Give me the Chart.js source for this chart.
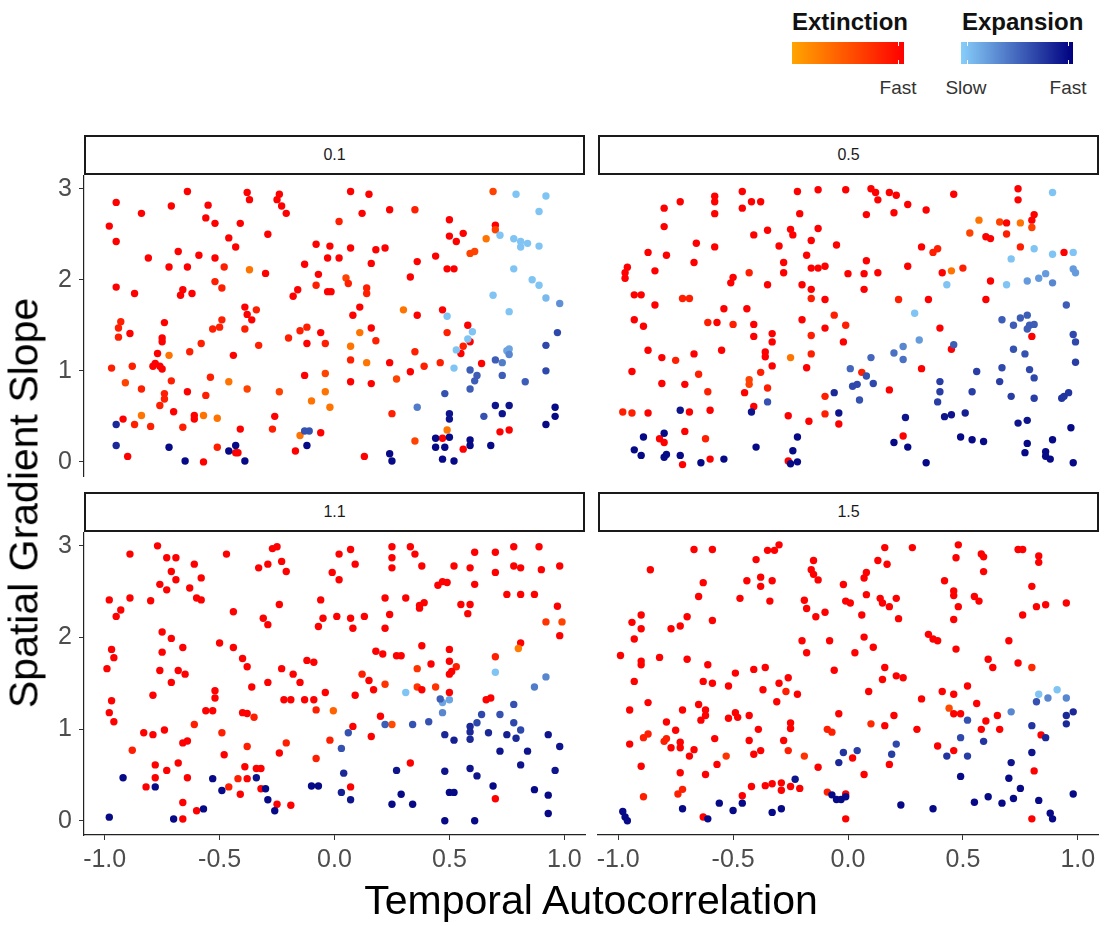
<!DOCTYPE html>
<html>
<head>
<meta charset="utf-8">
<script src="https://cdn.jsdelivr.net/npm/chart.js@4.4.0/dist/chart.umd.min.js"></script>
<style>
  body { margin: 0; width: 1113px; height: 926px; background: #fff; position: relative; overflow: hidden;
         font-family: "Liberation Sans", Arial, sans-serif; }
  canvas { position: absolute; }
  .strip { position: absolute; box-sizing: border-box; border: 2px solid #1a1a1a; background: #fff;
           height: 40px; width: 501px; font-size: 16px; color: #1a1a1a;
           display: flex; align-items: center; justify-content: center; }
  .lgTitle { position: absolute; font-weight: bold; font-size: 24px; line-height: 24px; color: #111; white-space: nowrap; }
  .lgBar { position: absolute; top: 42px; width: 112px; height: 22px; }
  .lgTick { position: absolute; width: 1px; height: 4px; background: #fff; }
  .lgLab { position: absolute; font-size: 19px; line-height: 19px; color: #333; transform: translateX(-50%); white-space: nowrap; }
  .axTitle { position: absolute; font-size: 41px; line-height: 41px; color: #000; white-space: nowrap; }
</style>
</head>
<body>

<div class="lgTitle" style="left:792px; top:10px;">Extinction</div>
<div class="lgBar" id="barExt" style="left:792px;"></div>
<div class="lgTick" style="left:898px; top:42px;"></div>
<div class="lgTick" style="left:898px; top:60px;"></div>
<div class="lgLab" style="left:898px; top:78px;">Fast</div>

<div class="lgTitle" style="left:962px; top:10px;">Expansion</div>
<div class="lgBar" id="barExp" style="left:961px;"></div>
<div class="lgTick" style="left:967px; top:42px;"></div>
<div class="lgTick" style="left:967px; top:60px;"></div>
<div class="lgTick" style="left:1068px; top:42px;"></div>
<div class="lgTick" style="left:1068px; top:60px;"></div>
<div class="lgLab" style="left:966px; top:78px;">Slow</div>
<div class="lgLab" style="left:1068px; top:78px;">Fast</div>

<canvas id="p01" width="595" height="344" style="left:0px; top:154px;"></canvas>
<canvas id="p05" width="522" height="344" style="left:587px; top:154px;"></canvas>
<canvas id="p11" width="595" height="368" style="left:0px; top:511px;"></canvas>
<canvas id="p15" width="522" height="368" style="left:587px; top:511px;"></canvas>

<div class="strip" style="left:84px; top:135px;">0.1</div>
<div class="strip" style="left:598px; top:135px;">0.5</div>
<div class="strip" style="left:84px; top:492px;">1.1</div>
<div class="strip" style="left:598px; top:492px;">1.5</div>

<div class="axTitle" style="left:591px; top:880px; transform: translateX(-50%);">Temporal Autocorrelation</div>
<div class="axTitle" style="left:24px; top:503px; transform: translate(-50%, -50%) rotate(-90deg);">Spatial Gradient Slope</div>

<script>
// facet labels and axis ticks
const facets = ["0.1", "0.5", "1.1", "1.5"];
const xTicks = [-1, -0.5, 0, 0.5, 1];
const yTicks = [0, 1, 2, 3];

// points: [temporal autocorrelation, spatial gradient slope, speed 0..1]
const ext01 = [
  [-0.95,2.85,1],[-0.64,2.97,1],[-0.84,2.73,1],[-0.71,2.81,1],[-0.55,2.82,1],[-0.56,2.68,1],[-0.52,2.62,1],
  [-0.38,2.96,1],[-0.37,2.88,1],[-0.24,2.94,1],[-0.25,2.88,1],[-0.23,2.81,1],[-0.21,2.73,1],[-0.98,2.59,1],
  [-0.95,2.42,1],[-0.41,2.62,1],[-0.29,2.5,1],[-0.46,2.46,1],[-0.43,2.36,1],[-0.81,2.24,1],[-0.68,2.31,1],
  [-0.59,2.27,1],[-0.52,2.24,1],[-0.72,2.14,1],[-0.64,2.14,1],[-0.48,2.14,0.82],[-0.37,2.11,0.3],[-0.3,2.07,1],
  [-0.08,2.39,1],[-0.02,2.37,1],[-0.03,2.24,1],[-0.13,2.17,1],[-0.07,2.06,1],[-0.08,1.94,0.82],[-0.03,1.87,1],
  [-0.015,1.87,1],[-0.16,1.89,1],[-0.18,1.82,1],[-0.95,1.92,1],[-0.87,1.85,1],[-0.66,1.89,1],[-0.67,1.83,1],
  [-0.62,1.85,1],[-0.52,1.98,0.82],[-0.49,1.91,0.82],[-0.39,1.7,1],[-0.38,1.62,1],[-0.36,1.56,1],[-0.34,1.67,0.82],
  [-0.93,1.54,0.82],[-0.94,1.47,0.82],[-0.94,1.37,0.82],[-0.89,1.41,1],[-0.74,1.53,1],[-0.75,1.36,1],[-0.75,1.32,1],
  [-0.49,1.56,0.82],[-0.5,1.48,0.82],[-0.53,1.46,0.82],[-0.39,1.46,0.82],[-0.58,1.3,0.82],[-0.63,1.21,0.82],
  [-0.72,1.17,0.3],[-0.77,1.19,1],[-0.44,1.17,1],[-0.33,1.28,0.82],[-0.2,1.36,0.82],[-0.15,1.44,0.82],
  [-0.12,1.48,0.82],[-0.06,1.42,1],[-0.12,1.3,1],[-0.04,1.3,0.82],[-0.97,1.03,0.82],[-0.88,1.05,0.82],
  [-0.79,1.05,1],[-0.78,1.08,1],[-0.76,1.05,1],[-0.75,1.02,1],[-0.91,0.87,0.6],[-0.84,0.8,0.82],[-0.71,0.89,0.82],
  [-0.74,0.75,0.82],[-0.74,0.69,0.82],[-0.76,0.62,0.82],[-0.64,0.77,1],[-0.56,0.73,0.82],[-0.54,0.93,0.82],
  [-0.46,0.88,0.3],[-0.38,0.8,0.6],[-0.24,0.77,0.6],[-0.13,0.95,1],[-0.04,0.97,0.6],[-0.04,0.77,0.3],
  [-0.1,0.67,0.3],[-0.02,0.6,0.3],[-0.84,0.51,0.3],[-0.92,0.47,1],[-0.87,0.41,0.82],[-0.8,0.39,0.82],
  [-0.7,0.55,1],[-0.61,0.51,1],[-0.61,0.47,1],[-0.57,0.51,0.3],[-0.51,0.48,0.3],[-0.66,0.38,0.82],[-0.41,0.36,1],
  [-0.26,0.5,1],[-0.27,0.36,0.82],[-0.06,0.32,1],[-0.15,0.29,0.3],[-0.9,0.06,1],[-0.57,0.0,1],[-0.51,0.16,0.82],
  [-0.43,0.1,1],[-0.42,0.1,1],[-0.17,0.12,1],
  [0.07,2.97,1],[0.15,2.94,1],[0.24,2.77,1],[0.35,2.77,0.82],[0.12,2.73,1],[0.02,2.64,0.82],[0.5,2.66,1],
  [0.5,2.48,1],[0.53,2.42,1],[0.56,2.51,1],[0.69,2.97,0.6],[0.7,2.6,1],[0.7,2.55,0.6],[0.66,2.45,0.3],
  [0.59,2.29,0.6],[0.61,2.31,0.6],[0.07,2.35,1],[0.18,2.33,1],[0.22,2.35,1],[0.02,2.24,1],[0.16,2.18,1],
  [0.36,2.2,1],[0.44,2.26,1],[0.49,2.12,1],[0.52,2.12,1],[0.33,2.03,1],[0.05,2.02,0.6],[0.06,1.96,0.82],
  [0.14,1.91,0.82],[0.14,1.85,0.82],[0.11,1.7,1],[0.08,1.61,1],[0.3,1.67,0.3],[0.36,1.61,1],[0.47,1.67,1],
  [0.16,1.47,1],[0.11,1.42,0.3],[0.18,1.33,0.82],[0.07,1.27,0.3],[0.07,1.12,0.82],[0.14,1.09,0.3],[0.24,1.09,1],
  [0.35,1.21,0.82],[0.39,1.05,0.82],[0.33,0.99,1],[0.27,0.91,0.6],[0.07,0.88,1],[0.16,0.86,1],[0.46,1.09,0.82],
  [0.49,1.42,0.82],[0.58,1.5,1],[0.59,1.32,1],[0.56,1.27,0.82],[0.55,1.19,1],[0.64,1.08,1],[0.25,0.53,0.82],
  [0.35,0.23,0.6],[0.49,0.35,0.3],[0.47,0.26,1],[0.56,0.14,1],[0.72,0.33,1],[0.76,0.35,1],[0.13,0.06,1]
];
const exp01 = [
  [-0.95,0.41,0.8],[-0.95,0.18,0.8],[-0.72,0.16,0.95],[-0.65,0.01,0.95],[-0.43,0.18,0.95],[-0.46,0.12,0.95],
  [-0.39,0.01,0.95],[-0.13,0.34,0.6],[-0.11,0.34,0.6],[-0.12,0.18,0.95],
  [0.79,2.94,0.05],[0.92,2.92,0.05],[0.89,2.75,0.05],[0.72,2.49,0.05],[0.78,2.45,0.05],[0.81,2.42,0.05],
  [0.81,2.36,0.05],[0.84,2.4,0.05],[0.89,2.37,0.05],[0.78,2.12,0.05],[0.86,2.0,0.05],[0.89,1.94,0.05],
  [0.92,1.8,0.1],[0.98,1.74,0.3],[0.69,1.83,0.05],[0.76,1.65,0.05],[0.49,1.6,0.05],[0.6,1.43,0.05],
  [0.58,1.35,0.05],[0.53,1.23,0.05],[0.52,1.03,0.05],[0.75,1.22,0.2],[0.76,1.24,0.2],
  [0.76,1.18,0.35],[0.73,1.09,0.4],[0.7,1.12,0.55],[0.59,1.01,0.55],[0.62,0.95,0.55],[0.61,0.89,0.55],
  [0.59,0.8,0.55],[0.73,0.95,0.55],[0.83,0.88,0.55],[0.92,1.28,0.65],[0.97,1.42,0.65],[0.92,1.0,0.65],
  [0.48,0.75,0.6],[0.36,0.6,0.4],[0.65,0.5,0.6],
  [0.7,0.62,0.9],[0.76,0.62,0.9],[0.73,0.53,0.9],[0.5,0.53,0.9],[0.5,0.47,0.9],[0.96,0.6,0.95],[0.96,0.5,0.95],
  [0.92,0.41,0.95],[0.44,0.26,0.95],[0.44,0.16,0.95],[0.48,0.16,0.95],[0.5,0.27,0.95],[0.59,0.24,0.95],
  [0.59,0.18,0.95],[0.68,0.18,0.95],[0.24,0.09,0.95],[0.25,0.01,0.95],[0.47,0.03,0.95],[0.52,0.01,0.95]
];

const ext05 = [
  [-0.8,2.77,1],[-0.73,2.84,1],[-0.58,2.9,1],[-0.58,2.84,1],[-0.58,2.71,1],[-0.46,2.95,1],[-0.46,2.77,1],
  [-0.42,2.84,1],[-0.38,2.84,1],[-0.22,2.95,1],[-0.13,2.97,1],[-0.01,2.97,1],[-0.21,2.71,1],[-0.8,2.57,1],
  [-0.66,2.39,1],[-0.58,2.35,1],[-0.87,2.29,1],[-0.79,2.26,1],[-0.67,2.18,1],[-0.84,2.09,1],[-0.96,2.13,1],
  [-0.97,2.07,1],[-0.97,2.01,1],[-0.41,2.48,1],[-0.35,2.53,1],[-0.3,2.36,1],[-0.25,2.54,1],[-0.24,2.48,1],
  [-0.16,2.42,1],[-0.13,2.55,1],[-0.05,2.37,1],[-0.18,2.26,1],[-0.28,2.18,1],[-0.28,2.07,1],[-0.16,2.12,1],
  [-0.13,2.12,1],[-0.1,2.14,1],[-0.5,2.02,1],[-0.51,1.96,1],[-0.43,2.07,0.82],[-0.35,1.94,1],[-0.2,1.94,1],
  [-0.16,1.89,1],[-0.16,1.79,0.82],[-0.1,1.78,1],[-0.93,1.83,1],[-0.9,1.83,1],[-0.72,1.79,0.82],[-0.69,1.79,0.82],
  [-0.84,1.72,1],[-0.54,1.68,1],[-0.44,1.68,1],[-0.93,1.56,1],[-0.89,1.49,1],[-0.61,1.53,0.82],[-0.57,1.53,1],
  [-0.5,1.51,0.82],[-0.41,1.51,1],[-0.41,1.38,1],[-0.33,1.41,1],[-0.33,1.32,1],[-0.2,1.56,1],[-0.06,1.61,0.82],
  [-0.01,1.5,0.82],[-0.1,1.47,1],[-0.16,1.39,0.82],[-0.02,1.32,1],[-0.87,1.23,1],[-0.81,1.15,1],[-0.75,1.12,0.82],
  [-0.67,1.19,1],[-0.55,1.23,1],[-0.36,1.21,1],[-0.36,1.16,1],[-0.25,1.15,0.3],[-0.16,1.19,0.82],[-0.33,1.06,1],
  [-0.18,1.04,1],[-0.94,1.0,1],[-0.65,0.97,0.82],[-0.38,0.99,0.82],[-0.81,0.87,1],[-0.71,0.86,1],[-0.61,0.78,0.82],
  [-0.43,0.91,0.6],[-0.43,0.86,0.6],[-0.45,0.77,1],[-0.35,0.82,0.82],[-0.1,0.73,0.82],[-0.98,0.56,0.82],
  [-0.94,0.55,0.82],[-0.87,0.55,1],[-0.69,0.56,1],[-0.6,0.58,1],[-0.41,0.62,1],[-0.26,0.52,1],[-0.17,0.46,1],
  [-0.1,0.54,0.82],[-0.04,0.43,1],[-0.71,0.35,1],[-0.62,0.27,0.82],[-0.82,0.27,1],[-0.8,0.23,1],[-0.72,-0.01,1],
  [-0.6,0.05,1],[-0.26,0.03,1],
  [0.1,2.98,1],[0.12,2.94,1],[0.13,2.86,1],[0.18,2.94,1],[0.21,2.91,1],[0.08,2.7,1],[0.2,2.72,1],[0.26,2.81,1],
  [0.34,2.75,1],[0.46,2.92,1],[0.74,2.98,1],[0.74,2.86,1],[0.81,2.7,1],[0.8,2.64,1],[0.57,2.64,0.3],
  [0.66,2.62,0.6],[0.69,2.61,1],[0.75,2.61,0.3],[0.8,2.56,0.6],[0.53,2.5,0.6],[0.6,2.46,1],[0.62,2.44,1],
  [0.69,2.49,0.82],[0.75,2.35,0.82],[0.32,2.35,1],[0.39,2.33,0.82],[0.37,2.29,0.82],[0.94,2.29,1],[0.08,2.2,1],
  [0.0,2.06,1],[0.07,2.06,1],[0.13,2.07,1],[0.07,1.89,1],[0.26,2.14,1],[0.41,2.07,1],[0.45,2.09,0.3],
  [0.5,2.12,0.82],[0.62,1.98,1],[0.6,1.78,1],[0.35,1.78,1],[0.22,1.78,0.82],[0.4,1.47,1],[0.45,1.24,1],
  [0.8,1.38,1],[0.32,1.03,1],[0.06,0.99,0.82],[0.18,0.8,1],[0.24,0.3,1]
];
const exp05 = [
  [-0.06,0.77,0.8],[-0.04,0.55,0.9],[-0.35,0.67,0.6],[-0.73,0.58,0.9],[-0.42,0.56,0.9],[-0.89,0.29,0.95],
  [-0.8,0.33,0.95],[-0.93,0.15,0.95],[-0.9,0.09,0.95],[-0.8,0.07,0.95],[-0.79,0.1,0.95],[-0.73,0.09,0.95],
  [-0.64,0.01,0.95],[-0.54,0.05,0.95],[-0.4,0.18,0.95],[-0.22,0.29,0.95],[-0.24,0.14,0.95],[-0.25,0.0,0.95],
  [-0.22,0.02,0.95],
  [0.89,2.94,0.05],[0.81,2.33,0.05],[0.89,2.27,0.05],[0.98,2.29,0.05],[0.71,2.22,0.05],[0.43,1.94,0.05],
  [0.69,1.94,0.05],[0.29,1.63,0.05],
  [0.78,1.98,0.25],[0.83,2.01,0.25],[0.86,2.06,0.25],[0.98,2.11,0.25],[0.99,2.07,0.25],[0.89,1.96,0.35],
  [0.31,1.34,0.25],[0.24,1.27,0.35],
  [0.95,1.72,0.55],[0.67,1.56,0.55],[0.72,1.5,0.55],[0.75,1.58,0.55],[0.78,1.61,0.55],[0.79,1.5,0.55],
  [0.81,1.51,0.55],[0.78,1.46,0.55],[0.46,1.29,0.55],[0.2,1.2,0.45],[0.24,1.13,0.45],[0.1,1.15,0.5],
  [0.01,1.03,0.5],[0.08,0.95,0.6],[0.02,0.84,0.65],[0.04,0.86,0.65],[0.11,0.87,0.65],[0.05,0.69,0.6],
  [0.98,1.4,0.65],[0.99,1.32,0.65],[0.72,1.24,0.6],[0.77,1.19,0.6],[0.99,1.1,0.7],[0.67,1.04,0.65],
  [0.79,1.02,0.65],[0.81,0.93,0.65],[0.56,1.0,0.7],[0.66,0.89,0.7],[0.4,0.89,0.7],[0.4,0.78,0.7],
  [0.39,0.67,0.7],[0.54,0.78,0.7],[0.71,0.73,0.7],[0.81,0.71,0.7],[0.93,0.71,0.75],[0.94,0.73,0.75],
  [0.96,0.77,0.75],
  [0.25,0.5,0.9],[0.42,0.51,0.9],[0.45,0.53,0.9],[0.51,0.55,0.85],[0.74,0.44,0.9],[0.78,0.47,0.9],
  [0.97,0.39,0.95],[0.2,0.23,0.95],[0.26,0.18,0.95],[0.49,0.29,0.95],[0.54,0.26,0.95],[0.59,0.24,0.95],
  [0.78,0.22,0.95],[0.77,0.12,0.95],[0.89,0.26,0.95],[0.86,0.13,0.95],[0.86,0.08,0.95],[0.88,0.05,0.95],
  [0.34,0.01,0.95],[0.98,0.01,0.95]
];

const ext11 = [
  [-0.77,3.0,1],[-0.89,2.91,1],[-0.73,2.87,1],[-0.69,2.87,1],[-0.61,2.8,1],[-0.71,2.72,1],[-0.69,2.63,1],
  [-0.58,2.65,1],[-0.76,2.58,1],[-0.73,2.52,1],[-0.63,2.54,1],[-0.6,2.43,1],[-0.58,2.41,1],[-0.47,2.91,1],
  [-0.27,2.97,1],[-0.25,2.99,1],[-0.33,2.76,1],[-0.29,2.8,1],[-0.23,2.83,1],[-0.21,2.72,1],[-0.01,2.71,1],
  [-0.98,2.41,1],[-0.89,2.43,1],[-0.93,2.3,1],[-0.95,2.23,1],[-0.8,2.4,1],[-0.44,2.28,1],[-0.31,2.21,1],
  [-0.29,2.14,1],[-0.24,2.36,1],[-0.06,2.41,1],[-0.05,2.21,1],[-0.07,2.12,1],[-0.75,2.06,1],[-0.71,1.99,1],
  [-0.66,1.89,1],[-0.75,1.84,1],[-0.97,1.87,1],[-0.96,1.78,1],[-0.99,1.66,1],[-0.76,1.64,1],[-0.68,1.64,1],
  [-0.65,1.6,1],[-0.71,1.51,1],[-0.5,1.94,1],[-0.44,1.89,1],[-0.4,1.77,1],[-0.38,1.68,1],[-0.36,1.46,1],
  [-0.29,1.51,1],[-0.23,1.66,1],[-0.18,1.6,1],[-0.15,1.51,1],[-0.12,1.75,1],[-0.09,1.73,1],[-0.04,1.4,1],
  [-0.13,1.32,1],[-0.09,1.32,1],[-0.22,1.32,1],[-0.19,1.32,1],[-0.52,1.42,1],[-0.52,1.34,1],[-0.56,1.2,1],
  [-0.53,1.2,1],[-0.4,1.18,1],[-0.38,1.17,1],[-0.35,1.13,0.82],[-0.08,1.21,0.82],[-0.005,1.2,0.4],
  [-0.79,1.37,1],[-0.97,1.31,1],[-0.98,1.18,1],[-0.96,1.08,1],[-0.83,0.96,1],[-0.79,0.94,1],[-0.74,0.99,1],
  [-0.61,1.05,0.82],[-0.66,0.85,1],[-0.64,0.87,1],[-0.49,0.96,0.82],[-0.88,0.77,0.82],[-0.48,0.72,1],
  [-0.38,0.81,0.82],[-0.24,0.74,1],[-0.21,0.85,0.82],[-0.02,0.88,0.82],[-0.08,0.68,0.82],[-0.78,0.61,1],
  [-0.78,0.47,1],[-0.73,0.55,1],[-0.68,0.63,1],[-0.64,0.47,1],[-0.82,0.37,1],[-0.39,0.59,1],[-0.34,0.57,1],
  [-0.32,0.57,1],[-0.42,0.46,0.82],[-0.38,0.46,1],[-0.46,0.37,0.82],[-0.32,0.35,1],[-0.41,0.29,1],
  [-0.25,0.18,1],[-0.19,0.17,1],[-0.66,0.2,1],[-0.6,0.11,1],[-0.66,0.02,1],
  [0.02,2.91,1],[0.07,2.96,1],[0.09,2.8,1],[0.02,2.63,1],[0.25,2.99,1],[0.25,2.87,1],[0.25,2.76,1],
  [0.33,2.99,1],[0.35,2.91,1],[0.38,2.78,1],[0.61,2.93,1],[0.52,2.78,1],[0.59,2.76,1],[0.7,2.93,1],
  [0.78,2.99,1],[0.78,2.78,1],[0.81,2.76,1],[0.89,2.99,1],[0.9,2.74,1],[0.98,2.78,1],[0.7,2.71,1],
  [0.45,2.57,1],[0.47,2.61,1],[0.49,2.6,1],[0.61,2.58,1],[0.22,2.43,1],[0.31,2.43,1],[0.37,2.35,1],
  [0.37,2.32,1],[0.39,2.38,1],[0.55,2.36,1],[0.59,2.36,1],[0.58,2.26,1],[0.75,2.47,1],[0.81,2.47,1],
  [0.87,2.47,1],[0.97,2.34,1],[0.98,2.02,1],[0.01,2.23,1],[0.07,2.21,1],[0.08,2.1,1],[0.13,2.23,1],
  [0.24,2.25,1],[0.22,2.1,1],[0.92,2.17,0.7],[0.99,2.17,0.6],[0.81,1.94,1],[0.8,1.88,0.25],[0.7,1.79,0.82],
  [0.18,1.85,1],[0.21,1.82,1],[0.27,1.8,1],[0.29,1.8,1],[0.38,1.91,1],[0.5,1.87,1],[0.42,1.71,1],[0.5,1.74,1],
  [0.53,1.68,0.82],[0.51,1.63,1],[0.5,1.6,1],[0.36,1.66,0.7],[0.12,1.6,0.82],[0.15,1.53,1],[0.17,1.43,1],
  [0.22,1.49,0.7],[0.36,1.46,0.7],[0.38,1.43,1],[0.44,1.46,0.7],[0.5,1.4,1],[0.09,1.37,1],[0.66,1.32,1],
  [0.68,1.34,1],[0.2,1.14,1],[0.25,1.05,0.55],[0.08,1.03,1],[0.16,0.92,1],[0.33,0.63,1],[0.07,0.37,1],
  [0.7,0.24,1]
];
const exp11 = [
  [-0.92,0.47,0.95],[-0.78,0.37,0.95],[-0.98,0.04,0.95],[-0.7,0.02,0.95],[-0.57,0.13,0.95],[-0.53,0.46,0.95],
  [-0.49,0.33,0.95],[-0.34,0.47,0.9],[-0.3,0.35,0.95],[-0.29,0.23,0.95],[-0.26,0.11,0.95],[-0.1,0.38,0.95],
  [-0.07,0.38,0.95],
  [0.31,1.4,0.05],[0.7,1.62,0.05],[0.5,1.32,0.2],[0.47,1.29,0.2],
  [0.92,1.57,0.35],[0.87,1.46,0.4],[0.46,1.33,0.55],[0.47,1.18,0.35],[0.78,1.27,0.6],[0.72,1.16,0.6],
  [0.64,1.16,0.65],[0.62,1.07,0.65],[0.78,1.07,0.65],[0.81,0.99,0.65],[0.41,1.08,0.6],[0.34,1.05,0.6],
  [0.22,1.05,0.55],[0.06,0.96,0.6],[0.03,0.79,0.6],
  [0.59,1.03,0.8],[0.59,0.97,0.8],[0.59,0.89,0.8],[0.48,0.94,0.8],[0.52,0.88,0.85],[0.67,0.96,0.8],
  [0.75,0.94,0.85],[0.79,0.9,0.8],[0.93,0.94,0.9],[0.98,0.81,0.9],[0.72,0.76,0.9],[0.84,0.76,0.9],
  [0.81,0.61,0.9],[0.96,0.55,0.9],[0.04,0.52,0.8],[0.27,0.55,0.9],[0.48,0.54,0.9],[0.59,0.57,0.9],
  [0.62,0.49,0.9],[0.69,0.38,0.95],[0.03,0.31,0.85],[0.07,0.23,0.9],[0.29,0.29,0.95],[0.25,0.18,0.95],
  [0.34,0.18,0.95],[0.5,0.31,0.95],[0.52,0.31,0.95],[0.87,0.34,0.95],[0.93,0.28,0.95],[0.93,0.08,0.95],
  [0.48,0.0,0.95],[0.61,0.0,0.95]
];

const ext15 = [
  [-0.67,2.94,1],[-0.59,2.94,1],[-0.86,2.72,1],[-0.4,2.83,1],[-0.35,2.93,1],[-0.32,2.93,1],[-0.3,2.99,1],
  [-0.63,2.58,1],[-0.65,2.43,1],[-0.44,2.6,1],[-0.38,2.64,1],[-0.38,2.54,1],[-0.33,2.6,1],[-0.47,2.41,1],
  [-0.34,2.38,1],[-0.15,2.82,1],[-0.16,2.72,1],[-0.15,2.67,1],[-0.13,2.61,1],[-0.02,2.56,1],[-0.01,2.38,1],
  [0.01,2.36,1],[-0.19,2.39,1],[-0.18,2.3,1],[-0.14,2.21,1],[-0.1,2.26,1],[-0.94,2.15,1],[-0.9,2.23,1],
  [-0.9,2.08,1],[-0.93,1.97,1],[-0.77,2.08,1],[-0.73,2.11,1],[-0.7,2.21,1],[-0.59,2.17,1],[-0.99,1.79,1],
  [-0.9,1.73,1],[-0.9,1.69,1],[-0.82,1.77,1],[-0.7,1.75,1],[-0.93,1.51,1],[-0.2,1.95,1],[-0.18,1.82,1],
  [-0.08,1.95,1],[-0.06,1.63,1],[-0.61,1.69,1],[-0.49,1.6,1],[-0.63,1.51,1],[-0.59,1.49,1],[-0.52,1.46,1],
  [-0.41,1.64,1],[-0.36,1.66,1],[-0.37,1.42,1],[-0.3,1.49,1],[-0.26,1.55,1],[-0.27,1.4,0.82],[-0.22,1.37,1],
  [-0.31,1.29,1],[-0.87,1.28,1],[-0.95,1.2,1],[-0.72,1.2,1],[-0.65,1.26,1],[-0.62,1.2,1],[-0.62,1.14,1],
  [-0.64,1.09,1],[-0.52,1.11,1],[-0.49,1.17,1],[-0.48,1.12,1],[-0.43,1.14,1],[-0.04,1.16,1],[-0.79,1.07,1],
  [-0.75,0.98,1],[-0.25,1.06,1],[-0.25,1.0,1],[-0.39,0.99,1],[-0.89,0.9,0.82],[-0.87,0.94,0.82],[-0.95,0.83,1],
  [-0.8,0.86,0.82],[-0.79,0.89,0.82],[-0.77,0.79,1],[-0.73,0.85,1],[-0.73,0.79,1],[-0.67,0.77,1],[-0.69,0.7,1],
  [-0.58,0.89,1],[-0.43,0.87,1],[-0.28,0.87,1],[-0.41,0.72,1],[-0.38,0.76,1],[-0.26,0.76,0.82],[-0.53,0.7,0.7],
  [-0.19,0.7,0.7],[-0.09,0.99,0.82],[-0.07,0.96,0.82],[-0.9,0.59,1],[-0.73,0.52,1],[-0.57,0.61,1],[-0.62,0.5,1],
  [-0.13,0.58,1],[-0.89,0.26,0.82],[-0.74,0.29,0.82],[-0.72,0.34,0.82],[-0.42,0.37,1],[-0.36,0.38,1],
  [-0.33,0.4,1],[-0.29,0.41,1],[-0.29,0.33,1],[-0.25,0.37,1],[-0.21,0.35,1],[-0.46,0.27,1],[-0.09,0.31,0.82],
  [-0.01,0.29,1],[-0.63,0.04,1],[-0.01,0.02,1],
  [0.16,2.96,1],[0.28,2.96,1],[0.48,2.99,1],[0.47,2.85,1],[0.13,2.82,1],[0.17,2.78,1],[0.58,2.89,1],
  [0.59,2.86,1],[0.59,2.7,1],[0.74,2.94,1],[0.76,2.94,1],[0.83,2.87,1],[0.83,2.8,1],[0.08,2.69,1],[0.07,2.63,1],
  [0.42,2.6,1],[0.8,2.54,1],[0.08,2.45,1],[0.14,2.41,1],[0.15,2.36,1],[0.18,2.32,1],[0.21,2.41,1],[0.46,2.49,1],
  [0.46,2.44,1],[0.48,2.32,1],[0.55,2.43,1],[0.57,2.38,1],[0.82,2.32,1],[0.86,2.34,1],[0.95,2.36,1],
  [0.76,2.23,1],[0.06,2.23,1],[0.22,2.19,1],[0.46,2.18,1],[0.35,2.02,1],[0.37,1.97,1],[0.39,1.95,1],
  [0.07,1.99,1],[0.11,1.88,1],[0.03,1.82,1],[0.47,1.86,1],[0.7,1.95,1],[0.61,1.75,1],[0.63,1.66,1],
  [0.74,1.71,1],[0.8,1.66,0.75],[0.16,1.66,1],[0.15,1.53,1],[0.21,1.57,1],[0.24,1.55,1],[0.09,1.4,1],
  [0.32,1.32,1],[0.41,1.4,1],[0.46,1.37,1],[0.52,1.46,1],[0.56,1.27,1],[0.44,1.22,0.55],[0.46,1.16,1],
  [0.49,1.16,1],[0.2,1.14,1],[0.16,1.03,1],[0.1,1.05,0.75],[0.3,0.99,1],[0.6,1.08,1],[0.65,1.14,1],
  [0.58,0.99,1],[0.66,0.99,1],[0.84,0.93,1],[0.39,0.81,1],[0.46,0.76,1],[0.02,0.68,1],[0.18,0.61,1],
  [0.07,0.5,1],[0.81,0.54,1],[0.8,0.02,1]
];
const exp15 = [
  [-0.02,0.74,0.75],[-0.04,0.63,0.8],[-0.23,0.45,0.9],[-0.07,0.28,0.95],[-0.05,0.23,0.95],[-0.03,0.23,0.95],
  [-0.01,0.26,0.95],[-0.98,0.1,0.95],[-0.97,0.04,0.95],[-0.96,0.0,0.95],[-0.72,0.13,0.95],[-0.56,0.19,0.95],
  [-0.5,0.11,0.95],[-0.46,0.19,0.95],[-0.33,0.09,0.95],[-0.29,0.13,0.95],[-0.61,0.02,0.95],
  [0.83,1.37,0.05],[0.91,1.42,0.05],[0.87,1.33,0.35],[0.95,1.33,0.35],[0.71,1.18,0.35],[0.82,1.29,0.6],
  [0.52,1.09,0.6],[0.95,1.14,0.8],[0.98,1.18,0.8],[0.95,1.05,0.8],[0.8,1.03,0.75],[0.86,0.9,0.8],
  [0.49,0.9,0.65],[0.59,0.86,0.75],[0.21,0.83,0.65],[0.19,0.72,0.7],[0.04,0.76,0.7],[0.43,0.7,0.75],
  [0.52,0.7,0.7],[0.8,0.74,0.9],[0.71,0.63,0.9],[0.49,0.48,0.95],[0.7,0.46,0.95],[0.75,0.35,0.95],
  [0.98,0.29,0.95],[0.61,0.26,0.95],[0.55,0.2,0.95],[0.67,0.19,0.95],[0.72,0.24,0.95],[0.83,0.22,0.95],
  [0.88,0.08,0.95],[0.89,0.02,0.95],[0.23,0.17,0.95],[0.37,0.13,0.95]
];

// colour ramps: slow -> fast
const extSlow = [255, 165, 0], extFast = [255, 0, 0];
const expSlow = [135, 206, 250], expFast = [0, 0, 128];

function mix(a, b, t) {
  return "rgb(" + a.map((v, i) => Math.round(v + (b[i] - v) * t)).join(",") + ")";
}

document.getElementById("barExt").style.background =
  "linear-gradient(to right, " + mix(extSlow, extFast, 0) + ", " + mix(extSlow, extFast, 1) + ")";
document.getElementById("barExp").style.background =
  "linear-gradient(to right, " + mix(expSlow, expFast, 0) + ", " + mix(expSlow, expFast, 1) + ")";

const FONT = "'Liberation Sans', Arial, sans-serif";
Chart.defaults.font.family = FONT;

function toPoints(arr) {
  return arr.map(p => ({ x: p[0], y: p[1], s: p[2] }));
}

function makePanel(id, ext, exp, opt) {
  const axisGrid = { drawOnChartArea: false, drawTicks: true, tickLength: 5, color: "#333", lineWidth: 1 };
  const axisBorder = { display: true, color: "#222", width: 1.2 };
  const tickFont = { size: 25, family: FONT };

  return new Chart(document.getElementById(id), {
    type: "scatter",
    data: {
      datasets: [
        {
          data: toPoints(exp),
          pointRadius: 3.7,
          pointBorderWidth: 0,
          pointBackgroundColor: ctx => mix(expSlow, expFast, ctx.raw.s)
        },
        {
          data: toPoints(ext),
          pointRadius: 3.7,
          pointBorderWidth: 0,
          pointBackgroundColor: ctx => mix(extSlow, extFast, ctx.raw.s)
        }
      ]
    },
    options: {
      responsive: false,
      animation: false,
      layout: { padding: opt.padding },
      plugins: { legend: { display: false }, tooltip: { enabled: false } },
      scales: {
        x: {
          type: "linear",
          min: -1.09,
          max: 1.09,
          display: opt.showX,
          afterBuildTicks: s => { s.ticks = xTicks.map(v => ({ value: v })); },
          afterFit: s => { s.height = opt.showX ? 44 : 0; },
          grid: axisGrid,
          border: axisBorder,
          ticks: { color: "#4d4d4d", font: tickFont, padding: 5, maxRotation: 0, autoSkip: false,
                   callback: v => v.toFixed(1) }
        },
        y: {
          type: "linear",
          min: -0.155,
          max: 3.14,
          display: opt.showY,
          afterBuildTicks: s => { s.ticks = yTicks.map(v => ({ value: v })); },
          afterFit: s => { s.width = opt.showY ? 84 : 0; },
          grid: axisGrid,
          border: axisBorder,
          ticks: { color: "#4d4d4d", font: tickFont, padding: 7, callback: v => String(v) }
        }
      }
    }
  });
}

makePanel("p01", ext01, exp01, { showX: false, showY: true,  padding: { left: 0, top: 20, right: 10, bottom: 20 } });
makePanel("p05", ext05, exp05, { showX: false, showY: false, padding: { left: 10.5, top: 20, right: 10.5, bottom: 20 } });
makePanel("p11", ext11, exp11, { showX: true,  showY: true,  padding: { left: 0, top: 20, right: 10, bottom: 0 } });
makePanel("p15", ext15, exp15, { showX: true,  showY: false, padding: { left: 10.5, top: 20, right: 10.5, bottom: 0 } });
</script>
</body>
</html>
